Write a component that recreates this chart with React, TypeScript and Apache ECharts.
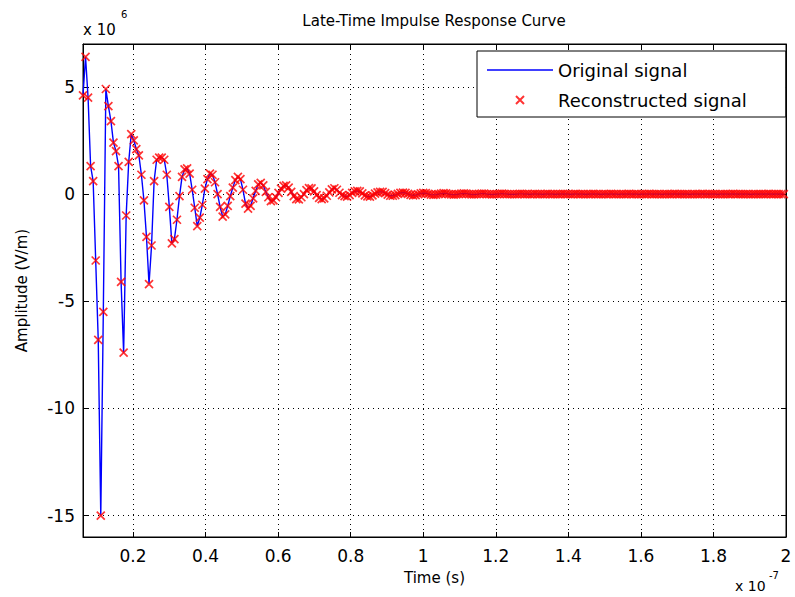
import React, { useEffect, useRef } from "react";
import * as echarts from "echarts";

// Time axis in units of 1e-7 s, amplitude in units of 1e6 V/m
const timeStart = 0.062;
const timeStep = 0.007;

const amplitude = [
  4.6, 6.4, 4.5, 1.3, 0.6, -3.1, -6.8, -15.0, -5.5, 4.9,
  4.1, 3.4, 2.4, 2.0, 1.3, -4.1, -7.4, -1.0, 1.5, 2.8,
  2.5, 2.1, 1.8, 0.9, -0.3, -2.0, -4.2, -2.4, 0.6, 1.6,
  1.7, 1.7, 1.6, 0.9, -0.6, -2.3, -2.1, -1.2, -0.1, 0.8,
  1.15, 1.2, 0.95, 0.2, -0.64, -1.5, -1.1, -0.5, 0.25, 0.7,
  0.95, 0.9, 0.55, 0.0, -0.6, -1.05, -0.95, -0.55, -0.1, 0.3,
  0.65, 0.8, 0.7, 0.2, -0.45, -0.68, -0.55, -0.2, 0.15, 0.45,
  0.52, 0.4, 0.1, -0.15, -0.33, -0.3, -0.15, 0.05, 0.25, 0.38,
  0.4, 0.3, 0.1, -0.1, -0.24, -0.25, -0.15, 0.0, 0.18, 0.28,
  0.26, 0.12, -0.05, -0.18, -0.24, -0.2, -0.08, 0.08, 0.22, 0.27,
  0.2, 0.06, -0.05, -0.1, -0.12, -0.05, 0.05, 0.12, 0.15, 0.12,
  0.03, -0.06, -0.11, -0.12, -0.06, 0.02, 0.08, 0.1, 0.1, 0.04,
  -0.03, -0.08, -0.08, -0.05, 0.01, 0.05, 0.07, 0.05, 0.01, -0.04,
  -0.06, -0.05, -0.01, 0.03, 0.05, 0.04, 0.01, -0.03, -0.04, -0.03,
  0.0, 0.02, 0.04, 0.03, 0.0, -0.02, -0.03, -0.02, 0.0, 0.02,
  0.03, 0.02, 0.0, -0.02, -0.02, -0.01, 0.01, 0.02, 0.02, 0.0,
  -0.01, -0.02, -0.01, 0.0, 0.01, 0.02, 0.01, 0.0, -0.01, -0.01,
  -0.01, 0.0, 0.01, 0.01, 0.0, 0.0, -0.01, 0.0, 0.01, 0.0,
  0.0, -0.01, 0.0, 0.01, 0.0, 0.0, -0.01, 0.0, 0.0, 0.01,
  0.0, 0.0, -0.01, 0.0, 0.01, 0.0, 0.0, 0.0, -0.01, 0.0,
  0.0, 0.01, 0.0, 0.0, -0.01, 0.0, 0.0, 0.0, 0.01, 0.0,
  0.0, -0.01, 0.0, 0.0, 0.0, 0.01, 0.0, 0.0, 0.0, -0.01,
  0.0, 0.0, 0.0, 0.01, 0.0, 0.0, 0.0, 0.0, -0.01, 0.0,
  0.0, 0.0, 0.0, 0.01, 0.0, 0.0, 0.0, 0.0, 0.0, -0.01,
  0.0, 0.0, 0.0, 0.0, 0.01, 0.0, 0.0, 0.0, 0.0, 0.0,
  -0.01, 0.0, 0.0, 0.0, 0.0, 0.0, 0.01, 0.0, 0.0, 0.0,
  0.0, 0.0, 0.0, -0.01, 0.0, 0.0, 0.0, 0.0, 0.0, 0.0,
  0.01, 0.0, 0.0, 0.0, 0.0, 0.0, 0.0,
];

const reconstructed = amplitude.slice();

const xMin = 0.062;
const xMax = 2;
const yMin = -16;
const yMax = 7;
const xTickStep = 0.2;
const yTickStep = 5;

const seriesNames = ["Original signal", "Reconstructed signal"];
const titleText = "Late-Time Impulse Response Curve";
const xName = "Time (s)";
const yName = "Amplitude (V/m)";

const FONT = "DejaVu Sans";
const CROSS = "path://M0,0L10,10M10,0L0,10";
const LEGEND_LINE = "path://M0,0L66,0L66,1.3L0,1.3Z";

function onStep(v: number, step: number) {
  const r = v / step;
  return Math.abs(r - Math.round(r)) < 1e-6;
}

export default function App() {
  const ref = useRef<HTMLDivElement>(null);

  useEffect(() => {
    const el = ref.current;
    if (!el) return;
    const chart = echarts.init(el, null, { renderer: "svg" });
    const orig = amplitude.map((v, i) => [+(timeStart + i * timeStep).toFixed(4), v]);
    const rec = reconstructed.map((v, i) => [+(timeStart + i * timeStep).toFixed(4), v]);

    const sideAxisCommon = {
      axisLine: { show: true, onZero: false, lineStyle: { color: "#000", width: 1 } },
      axisTick: { show: true, inside: true, length: 5, lineStyle: { color: "#000" } },
    };
    const gridLine = { show: true, lineStyle: { color: "#000", type: [1, 4], width: 1 } };

    chart.setOption({
      animation: false,
      backgroundColor: "#fff",
      title: {
        text: titleText,
        left: 434,
        top: 13,
        padding: 0,
        textAlign: "center",
        textStyle: { fontFamily: FONT, fontSize: 15, fontWeight: "normal", color: "#000" },
      },
      grid: {
        left: 83,
        right: 9,
        top: 44,
        bottom: 60,
        show: true,
        borderColor: "#000",
        borderWidth: 1,
        backgroundColor: "#fff",
      },
      legend: {
        orient: "vertical",
        left: 477,
        top: 51,
        padding: [10, 39, 8, 10],
        itemGap: 12,
        itemWidth: 66,
        itemHeight: 8,
        backgroundColor: "#fff",
        borderColor: "#000",
        borderWidth: 1,
        textStyle: { fontFamily: FONT, fontSize: 18, color: "#000" },
        data: [
          { name: seriesNames[0], icon: LEGEND_LINE, itemStyle: { color: "#0000ff", borderWidth: 0 } },
          { name: seriesNames[1] },
        ],
      },
      xAxis: [
        {
          type: "value",
          min: xMin,
          max: xMax,
          splitNumber: 10,
          position: "bottom",
          ...sideAxisCommon,
          axisLabel: {
            color: "#000",
            fontFamily: FONT,
            fontSize: 17,
            margin: 10,
            formatter: (v: number) => (onStep(v, xTickStep) ? String(+v.toFixed(1)) : ""),
          },
          splitLine: gridLine,
          name: xName,
          nameLocation: "middle",
          nameGap: 33,
          nameTextStyle: { fontFamily: FONT, fontSize: 15, color: "#000" },
        },
        {
          type: "value",
          min: xMin,
          max: xMax,
          splitNumber: 10,
          position: "top",
          ...sideAxisCommon,
          axisLabel: { show: false },
          splitLine: { show: false },
        },
      ],
      yAxis: [
        {
          type: "value",
          min: yMin,
          max: yMax,
          splitNumber: 5,
          position: "left",
          ...sideAxisCommon,
          axisLabel: {
            color: "#000",
            fontFamily: FONT,
            fontSize: 17,
            margin: 8,
            formatter: (v: number) => (onStep(v, yTickStep) ? String(Math.round(v)) : ""),
          },
          splitLine: gridLine,
          name: yName,
          nameLocation: "middle",
          nameRotate: 90,
          nameGap: 54,
          nameTextStyle: { fontFamily: FONT, fontSize: 15, color: "#000" },
        },
        {
          type: "value",
          min: yMin,
          max: yMax,
          splitNumber: 5,
          position: "right",
          ...sideAxisCommon,
          axisLabel: { show: false },
          splitLine: { show: false },
        },
      ],
      graphic: [
        { type: "text", left: 83, top: 22, style: { text: "x 10", font: `15px '${FONT}'`, fill: "#000" } },
        { type: "text", left: 121, top: 9, style: { text: "6", font: `10px '${FONT}'`, fill: "#000" } },
        { type: "text", left: 735, top: 579, style: { text: "x 10", font: `14px '${FONT}'`, fill: "#000" } },
        { type: "text", left: 769, top: 570, style: { text: "-7", font: `10px '${FONT}'`, fill: "#000" } },
      ],
      series: [
        {
          name: seriesNames[0],
          type: "line",
          xAxisIndex: 0,
          yAxisIndex: 0,
          data: orig,
          symbol: "none",
          lineStyle: { color: "#0000ff", width: 1.4 },
          itemStyle: { color: "#0000ff" },
          z: 2,
        },
        {
          name: seriesNames[1],
          type: "scatter",
          xAxisIndex: 0,
          yAxisIndex: 0,
          data: rec,
          symbol: CROSS,
          symbolSize: 8,
          itemStyle: { color: "transparent", borderColor: "#ff0000", borderWidth: 1.7 },
          z: 3,
        },
      ],
    });

    return () => chart.dispose();
  }, []);

  return (
    <div
      ref={ref}
      style={{ position: "fixed", left: 0, top: 0, width: 795, height: 597 }}
    />
  );
}
